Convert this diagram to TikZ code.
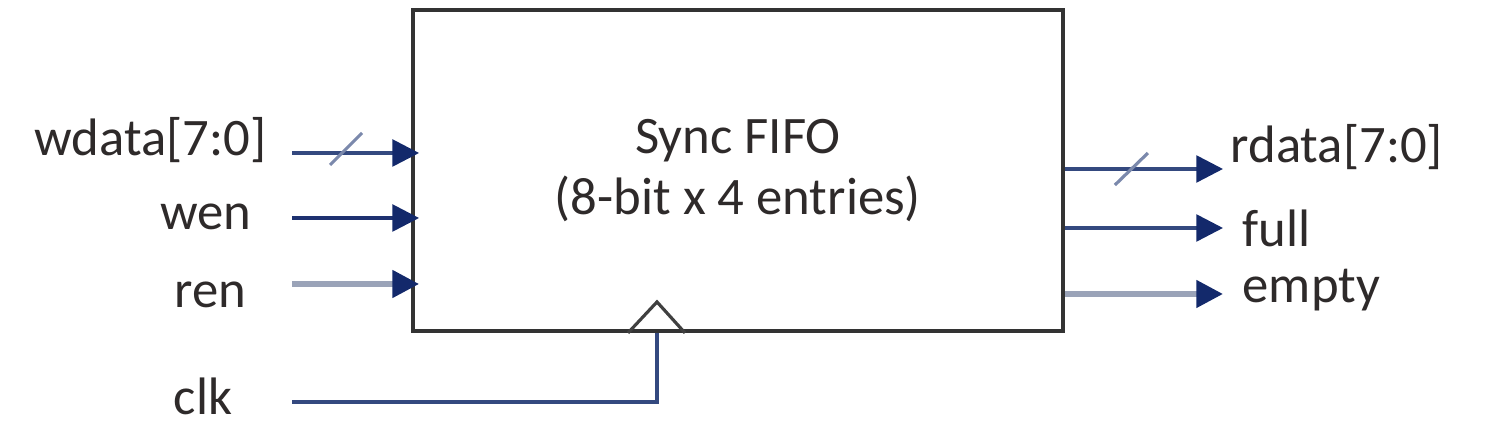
\documentclass[tikz,border=0pt]{standalone}
\usepackage{fontspec}
\setmainfont{Carlito}
\usetikzlibrary{arrows.meta}
\definecolor{wireblue}{HTML}{34497F}
\definecolor{darkwire}{HTML}{1E3170}
\definecolor{greywire}{HTML}{9AA3B8}
\definecolor{tipblue}{HTML}{13296B}
\definecolor{txtgrey}{HTML}{2E2A2A}
\begin{document}
\begin{tikzpicture}[
every node/.style={
text=txtgrey,
inner sep=0pt,
font=\fontsize{15}{17.5}\selectfont
},
fifobox/.style={
draw=black!80,
line width=1.1pt,
minimum width=6.5cm,
minimum height=3.21cm,
align=center
},
wire/.style={
line width=1pt,
-{Triangle[length=7.6pt,width=7.6pt,color=tipblue]}
},
buswidth/.style={line width=0.9pt, wireblue!65}
]

\useasboundingbox (0,0) rectangle (15,4.42);

\node[fifobox] (fifo) at (7.38,2.715) {Sync FIFO\\(8-bit x 4 entries)};

% inputs
\coordinate (wd) at (2.92,2.89);
\coordinate (we) at (2.92,2.24);
\coordinate (re) at (2.92,1.58);
\coordinate (ck) at (2.92,0.40);

\node[anchor=base east] (wdl) at (2.67,2.86) {wdata[7:0]};
\node[anchor=base east] (wel) at (2.52,2.12) {wen};
\node[anchor=base east] (rel) at (2.47,1.34) {ren};
\node[anchor=base east] (ckl) at (2.33,0.27) {clk};

\draw[wire, wireblue, shorten >=-0.8mm] (wd) -- (fifo.west |- wd);
\draw[wire, darkwire, shorten >=-0.8mm] (we) -- (fifo.west |- we);
\draw[wire, greywire, line width=1.6pt, shorten >=-0.8mm] (re) -- (fifo.west |- re);

\draw[buswidth] (wd) ++(0.38,-0.12) -- ++(0.32,0.32);

% clock pin
\coordinate (ckpin) at ([xshift=-8.1mm]fifo.south);
\draw[line width=1pt, wireblue] (ck) -| (ckpin);
\draw[line width=0.9pt, black!75] ([xshift=-2.9mm]ckpin) -- ++(0.29,0.31) -- ++(0.28,-0.31);

% outputs
\coordinate (rd) at (12.23,2.73);
\coordinate (fu) at (12.23,2.14);
\coordinate (em) at (12.23,1.48);

\draw[wire, wireblue] (fifo.east |- rd) -- (rd);
\draw[wire, wireblue] (fifo.east |- fu) -- (fu);
\draw[wire, greywire, line width=1.6pt] (fifo.east |- em) -- (em);

\draw[buswidth] (fifo.east |- rd) ++(0.50,-0.16) -- ++(0.33,0.32);

\node[anchor=base west] (rdl) at (12.30,2.79) {rdata[7:0]};
\node[anchor=base west] (ful) at (12.42,1.95) {full};
\node[anchor=base west] (eml) at (12.42,1.39) {empty};

\end{tikzpicture}
\end{document}
